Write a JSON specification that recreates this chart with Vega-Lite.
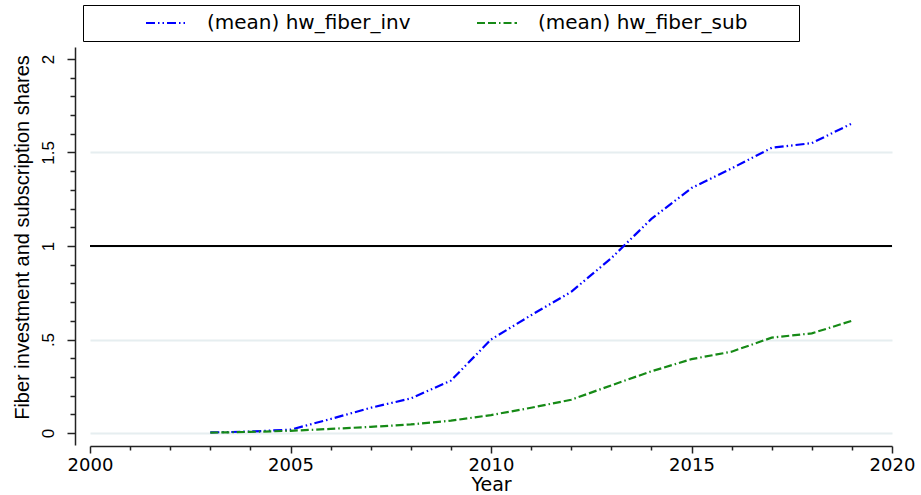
{
  "$schema": "https://vega.github.io/schema/vega-lite/v6.json",
  "width": 802,
  "height": 398,
  "autosize": {"type": "none"},
  "padding": {"left": 90, "top": 47, "right": 29, "bottom": 50},
  "background": "white",
  "config": {"view": {"stroke": null}, "font": "Liberation Sans"},
  "data": {
    "values": [
      {"year": 2003, "series": "(mean) hw_fiber_inv", "value": 0.003},
      {"year": 2004, "series": "(mean) hw_fiber_inv", "value": 0.008},
      {"year": 2005, "series": "(mean) hw_fiber_inv", "value": 0.018},
      {"year": 2006, "series": "(mean) hw_fiber_inv", "value": 0.075},
      {"year": 2007, "series": "(mean) hw_fiber_inv", "value": 0.135},
      {"year": 2008, "series": "(mean) hw_fiber_inv", "value": 0.185},
      {"year": 2009, "series": "(mean) hw_fiber_inv", "value": 0.28},
      {"year": 2010, "series": "(mean) hw_fiber_inv", "value": 0.5},
      {"year": 2011, "series": "(mean) hw_fiber_inv", "value": 0.63},
      {"year": 2012, "series": "(mean) hw_fiber_inv", "value": 0.755},
      {"year": 2013, "series": "(mean) hw_fiber_inv", "value": 0.935},
      {"year": 2014, "series": "(mean) hw_fiber_inv", "value": 1.145},
      {"year": 2015, "series": "(mean) hw_fiber_inv", "value": 1.31},
      {"year": 2016, "series": "(mean) hw_fiber_inv", "value": 1.415},
      {"year": 2017, "series": "(mean) hw_fiber_inv", "value": 1.525},
      {"year": 2018, "series": "(mean) hw_fiber_inv", "value": 1.55},
      {"year": 2019, "series": "(mean) hw_fiber_inv", "value": 1.655},
      {"year": 2003, "series": "(mean) hw_fiber_sub", "value": 0.002},
      {"year": 2004, "series": "(mean) hw_fiber_sub", "value": 0.006},
      {"year": 2005, "series": "(mean) hw_fiber_sub", "value": 0.012},
      {"year": 2006, "series": "(mean) hw_fiber_sub", "value": 0.022},
      {"year": 2007, "series": "(mean) hw_fiber_sub", "value": 0.033},
      {"year": 2008, "series": "(mean) hw_fiber_sub", "value": 0.046},
      {"year": 2009, "series": "(mean) hw_fiber_sub", "value": 0.066},
      {"year": 2010, "series": "(mean) hw_fiber_sub", "value": 0.096},
      {"year": 2011, "series": "(mean) hw_fiber_sub", "value": 0.135},
      {"year": 2012, "series": "(mean) hw_fiber_sub", "value": 0.178},
      {"year": 2013, "series": "(mean) hw_fiber_sub", "value": 0.255},
      {"year": 2014, "series": "(mean) hw_fiber_sub", "value": 0.33},
      {"year": 2015, "series": "(mean) hw_fiber_sub", "value": 0.395},
      {"year": 2016, "series": "(mean) hw_fiber_sub", "value": 0.435},
      {"year": 2017, "series": "(mean) hw_fiber_sub", "value": 0.51},
      {"year": 2018, "series": "(mean) hw_fiber_sub", "value": 0.533},
      {"year": 2019, "series": "(mean) hw_fiber_sub", "value": 0.6}
    ]
  },
  "layer": [
    {
      "mark": {"type": "rule", "color": "black", "strokeWidth": 1.5},
      "encoding": {
        "y": {"datum": 1, "type": "quantitative", "axis": null}
      }
    },
    {
      "mark": {"type": "line", "strokeWidth": 2.2},
      "encoding": {
        "x": {
          "field": "year",
          "type": "quantitative",
          "scale": {"domain": [2000, 2020], "nice": false, "zero": false},
          "axis": {
            "values": [2000, 2005, 2010, 2015, 2020],
            "format": "d",
            "grid": false,
            "offset": 1,
            "labelFlush": false,
            "labelOverlap": false,
            "domainColor": "#222222",
            "domainWidth": 1.5,
            "tickColor": "#222222",
            "tickWidth": 1.5,
            "tickSize": 7,
            "labelFont": "DejaVu Sans",
            "labelFontSize": 18,
            "labelColor": "black",
            "labelPadding": 3,
            "labelBaseline": "top",
            "title": "Year",
            "titleFont": "DejaVu Sans",
            "titleFontSize": 19,
            "titleFontWeight": "normal",
            "titleColor": "black",
            "titleBaseline": "alphabetic",
            "titleY": 44
          }
        },
        "y": {
          "field": "value",
          "type": "quantitative",
          "scale": {"domain": [-0.064, 2.064], "nice": false, "zero": false},
          "axis": {
            "values": [0, 0.5, 1, 1.5, 2],
            "format": "~g",
            "labelExpr": "datum.value == 0.5 ? '.5' : datum.label",
            "grid": true,
            "gridColor": "#e6eef0",
            "gridWidth": 2,
            "gridOpacity": {"condition": {"test": "datum.value >= 2", "value": 0}, "value": 1},
            "offset": 15,
            "labelFlush": false,
            "labelOverlap": false,
            "domainColor": "#222222",
            "domainWidth": 1.5,
            "tickColor": "#222222",
            "tickWidth": 1.5,
            "tickSize": 8,
            "labelFont": "Liberation Sans",
            "labelFontSize": 17,
            "labelColor": "black",
            "labelAngle": -90,
            "labelAlign": "center",
            "labelBaseline": "alphabetic",
            "labelPadding": 14,
            "title": "Fiber investment and subscription shares",
            "titleFont": "Liberation Sans",
            "titleFontSize": 20,
            "titleFontWeight": "normal",
            "titleColor": "black",
            "titleAngle": -90,
            "titleAlign": "center",
            "titleBaseline": "alphabetic",
            "titleX": -47,
            "titleY": 190
          }
        },
        "color": {
          "field": "series",
          "type": "nominal",
          "scale": {
            "domain": ["(mean) hw_fiber_inv", "(mean) hw_fiber_sub"],
            "range": ["#0000ff", "#168a16"]
          },
          "legend": {
            "orient": "none",
            "direction": "horizontal",
            "legendX": -7,
            "legendY": -42,
            "title": " ",
            "titleOrient": "right",
            "titleFontSize": 1,
            "titlePadding": 44,
            "padding": 8,
            "strokeColor": "black",
            "fillColor": "white",
            "symbolType": "stroke",
            "symbolSize": 1600,
            "symbolStrokeWidth": 2,
            "symbolOffset": 54,
            "labelOffset": 20,
            "columnPadding": 11,
            "clipHeight": 20,
            "labelFont": "DejaVu Sans",
            "labelFontSize": 20,
            "labelColor": "black",
            "labelLimit": 400
          }
        },
        "strokeDash": {
          "field": "series",
          "type": "nominal",
          "scale": {
            "domain": ["(mean) hw_fiber_inv", "(mean) hw_fiber_sub"],
            "range": [[9, 3, 1.5, 3, 1.5, 3], [8, 3, 8, 3, 1.5, 3]]
          },
          "legend": null
        }
      }
    },
    {
      "mark": {"type": "point", "opacity": 0},
      "encoding": {
        "x": {
          "field": "year",
          "type": "quantitative",
          "axis": {
            "orient": "bottom",
            "values": [2001, 2002, 2003, 2004, 2006, 2007, 2008, 2009, 2011, 2012, 2013, 2014, 2016, 2017, 2018, 2019],
            "labels": false,
            "domain": false,
            "grid": false,
            "offset": 1,
            "tickColor": "#222222",
            "tickWidth": 1.5,
            "tickSize": 4,
            "title": null
          }
        },
        "y": {
          "field": "value",
          "type": "quantitative",
          "axis": {
            "orient": "left",
            "values": [0.1, 0.2, 0.3, 0.4, 0.6, 0.7, 0.8, 0.9, 1.1, 1.2, 1.3, 1.4, 1.6, 1.7, 1.8, 1.9],
            "labels": false,
            "domain": false,
            "grid": false,
            "offset": 15,
            "tickColor": "#222222",
            "tickWidth": 1.5,
            "tickSize": 5,
            "title": null
          }
        }
      }
    }
  ],
  "resolve": {"axis": {"x": "independent", "y": "independent"}}
}
